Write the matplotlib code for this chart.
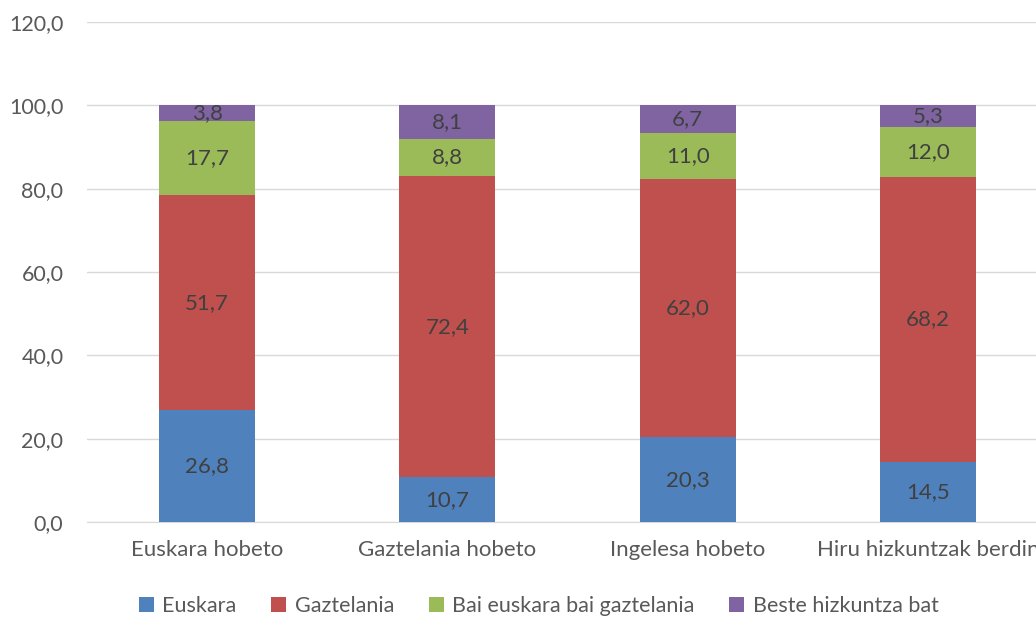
import numpy as np
import matplotlib.pyplot as plt

plt.rcParams['font.family'] = ['Lato', 'DejaVu Sans']

categories = ["Euskara hobeto", "Gaztelania hobeto", "Ingelesa hobeto", "Hiru hizkuntzak berdin"]
series_names = ["Euskara", "Gaztelania", "Bai euskara bai gaztelania", "Beste hizkuntza bat"]
euskara = [26.8, 10.7, 20.3, 14.5]
gaztelania = [51.7, 72.4, 62.0, 68.2]
biak = [17.7, 8.8, 11.0, 12.0]
beste = [3.8, 8.1, 6.7, 5.3]
colors = ["#4F81BD", "#C0504D", "#9BBB59", "#8064A2"]

fig = plt.figure(figsize=(10.36, 6.18), dpi=100)
ax = fig.add_axes([0.084, 0.1553, 0.9276, 0.8091])

x = np.arange(len(categories))
bottom = np.zeros(len(categories))
handles = []
for vals, name, col in zip([euskara, gaztelania, biak, beste], series_names, colors):
    vals = np.array(vals)
    bars = ax.bar(x, vals, 0.4, bottom=bottom, color=col, label=name, zorder=3)
    handles.append(bars)
    for xi, b, v in zip(x, bottom, vals):
        ax.text(xi, b + v / 2, f"{v:.1f}".replace(".", ","), ha="center", va="center",
                fontsize=16, color="#404040", zorder=4)
    bottom += vals

ax.set_xlim(-0.5, 3.5)
ax.set_ylim(0, 120)
ax.set_yticks(np.arange(0, 121, 20))
ax.set_yticklabels([f"{v:.1f}".replace(".", ",") for v in np.arange(0, 121, 20)])
ax.set_xticks(x)
ax.set_xticklabels(categories)
ax.grid(axis="y", color="#d9d9d9", linewidth=1, zorder=0)
for s in ["top", "right", "left"]:
    ax.spines[s].set_visible(False)
ax.spines["bottom"].set_color("#d9d9d9")
ax.tick_params(axis="both", length=0, colors="#595959")
ax.tick_params(axis="x", pad=13, labelsize=16)
ax.tick_params(axis="y", pad=17, labelsize=15.5)

fig.legend(handles=handles, labels=series_names, loc="center", bbox_to_anchor=(0.52, 0.019),
           ncol=4, frameon=False, fontsize=15.5, handlelength=0.7, handleheight=0.7,
           handletextpad=0.4, columnspacing=1.6, labelcolor="#595959")

fig.savefig("out.png", dpi=100)
